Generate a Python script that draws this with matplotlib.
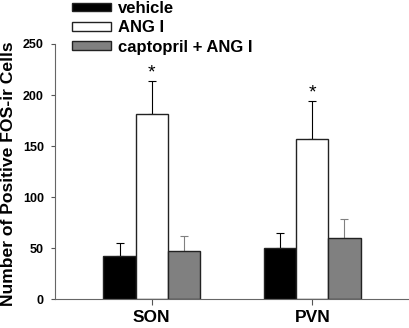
import numpy as np
import matplotlib
matplotlib.use("Agg")
from matplotlib import pyplot as plt
from matplotlib.patches import Patch

plt.rcParams['font.family'] = ['Liberation Sans', 'DejaVu Sans']
plt.rcParams['font.weight'] = 'bold'

# data
regions = ['SON', 'PVN']
groups = ['vehicle', 'ANG I', 'captopril + ANG I']
vehicle = [42.5, 50.5]
ang = [181, 156.5]
captopril = [47, 60]
vehicle_err = [12.5, 14]
ang_err = [32.5, 37.5]
captopril_err = [14.5, 19]
star = [True, True]

colors = ['black', 'white', '#808080']
err_colors = ['black', 'black', '#808080']

fig = plt.figure(figsize=(4.1, 3.28), dpi=100)
ax = fig.add_axes([0.134, 0.0875, 0.866, 0.7785])

x = np.arange(len(regions))
w = 0.2
means = [vehicle, ang, captopril]
errs = [vehicle_err, ang_err, captopril_err]

for i in range(3):
    pos = x + (i - 1) * w
    ax.bar(pos, means[i], width=w, color=colors[i], edgecolor='#222222',
           linewidth=1.0, zorder=2)
    ax.errorbar(pos, means[i], yerr=[np.zeros(len(regions)), errs[i]],
                fmt='none', ecolor=err_colors[i], elinewidth=0.8,
                capsize=3, capthick=0.8, zorder=1)

# significance stars above the ANG I bars
for j in range(len(regions)):
    if star[j]:
        ax.text(x[j], ang[j] + ang_err[j], '*', ha='center', va='bottom',
                fontsize=14, fontweight='normal')

ax.set_xlim(-0.602, 1.608)
ax.set_ylim(0, 250)
ax.set_yticks([0, 50, 100, 150, 200, 250])
ax.set_xticks(x)
ax.set_xticklabels(regions, fontsize=12.5, fontweight='bold')
ax.tick_params(axis='y', labelsize=9, length=3, width=0.8, color='#555555', pad=5)
ax.tick_params(axis='x', length=4, width=0.8, color='#555555', pad=4)
for s in ['top', 'right']:
    ax.spines[s].set_visible(False)
for s in ['left', 'bottom']:
    ax.spines[s].set_color('#666666')
    ax.spines[s].set_linewidth(0.8)

ax.set_ylabel('Number of Positive FOS-ir Cells', fontsize=12.6, fontweight='bold',
              va='center')
ax.yaxis.set_label_coords(-0.13, 0.49)

handles = [Patch(facecolor=colors[i], edgecolor='#222222', linewidth=1.0)
           for i in range(3)]
fig.legend(handles, groups, loc='upper left', bbox_to_anchor=(0.148, 1.032),
           frameon=False, prop={'size': 12, 'weight': 'bold'},
           handlelength=2.3, handleheight=0.4, labelspacing=0.25,
           handletextpad=0.45, borderpad=0.2)

fig.savefig('out.png', dpi=100)
